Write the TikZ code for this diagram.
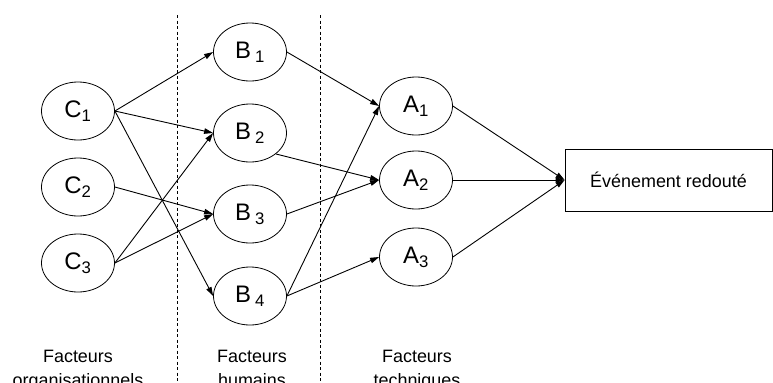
\documentclass[tikz,border=0pt]{standalone}
\usepackage{fontspec}
\setmainfont{Liberation Sans}
\usetikzlibrary{arrows.meta,shapes.geometric}
\newcommand{\ColC}{78}
\newcommand{\ColB}{250}
\newcommand{\ColA}{416}
\tikzset{
  facteur/.style={draw,ellipse,line width=0.8pt,minimum width=73bp,minimum height=58bp,inner sep=0pt,font=\fontsize{24}{28}\selectfont},
  lien/.style={line width=0.9pt,-{Triangle[length=9bp,width=5.5bp]}},
  groupe/.style={align=center,anchor=base,font=\fontsize{18}{24}\selectfont},
  separation/.style={line width=0.7pt,dash pattern=on 3bp off 2.5bp}
}
\begin{document}
\begin{tikzpicture}[x=1bp,y=-1bp]
		\useasboundingbox (0,0) rectangle (773,382);

		\node[facteur] (C1) at (\ColC,111) {C\textsubscript{1}};
		\node[facteur] (C2) at (\ColC,187) {C\textsubscript{2}};
		\node[facteur] (C3) at (\ColC,263) {C\textsubscript{3}};

		\node[facteur] (B1) at (\ColB,52) {B\,\textsubscript{1}};
		\node[facteur] (B2) at (\ColB,133) {B\,\textsubscript{2}};
		\node[facteur] (B3) at (\ColB,214) {B\,\textsubscript{3}};
		\node[facteur] (B4) at (\ColB,296) {B\,\textsubscript{4}};

		\node[facteur] (A1) at (\ColA,106) {A\textsubscript{1}};
		\node[facteur] (A2) at (\ColA,180) {A\textsubscript{2}};
		\node[facteur] (A3) at (\ColA,257) {A\textsubscript{3}};

		\node[draw,line width=0.8pt,minimum width=207bp,minimum height=62bp,inner sep=0pt,font=\fontsize{18}{22}\selectfont] (E) at (668.5,180) {Événement redouté};

		\coordinate (S1h) at (177,15);
		\coordinate (S1b) at (177,382);
		\coordinate (S2h) at (320,15);
		\coordinate (S2b) at (320,382);
		\draw[separation] (S1h) -- (S1b);
		\draw[separation] (S2h) -- (S2b);

		\draw[lien] (C1.east) -- (B1.west);
		\draw[lien] (C1.east) -- (B2.west);
		\draw[lien] (C1.east) -- (B4.west);
		\draw[lien] (C2.east) -- (B3.west);
		\draw[lien] (C3.east) -- (B2.west);
		\draw[lien] (C3.east) -- (B3.west);

		\draw[lien] (B1.east) -- (A1.west);
		\draw[lien] (B2.-39) -- (A2.west);
		\draw[lien] (B3.east) -- (A2.west);
		\draw[lien] (B4.east) -- (A1.west);
		\draw[lien] (B4.east) -- (A3.west);

		\draw[lien] (A1.east) -- (E.west);
		\draw[lien] (A2.east) -- (E.west);
		\draw[lien] (A3.east) -- (E.west);

		\node[groupe] (GC) at (\ColC,386) {Facteurs\\organisationnels};
		\node[groupe] (GB) at (252,386) {Facteurs\\humains};
		\node[groupe] (GA) at (417,386) {Facteurs\\techniques};
	\end{tikzpicture}
\end{document}
